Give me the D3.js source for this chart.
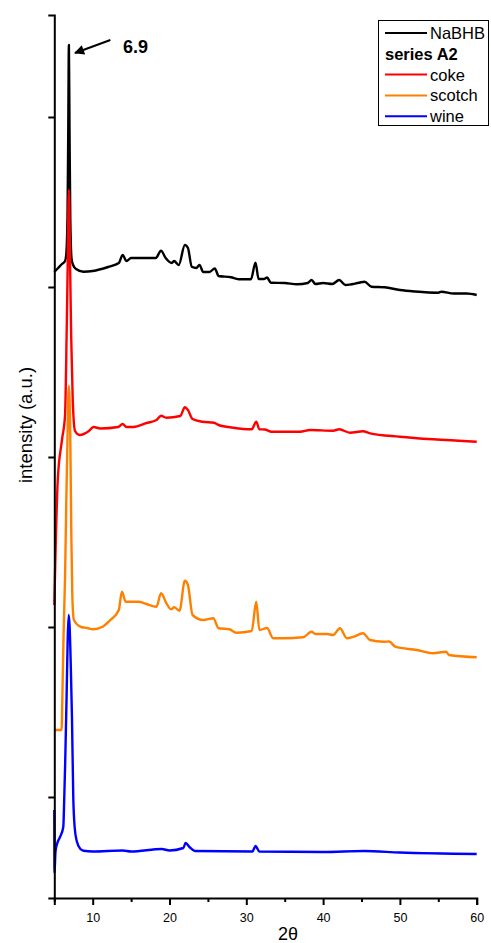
<!DOCTYPE html>
<html><head><meta charset="utf-8">
<script src="https://cdn.jsdelivr.net/npm/d3@7/dist/d3.min.js"></script>
<style>
html,body{margin:0;padding:0;background:#fff;}
svg{display:block;font-family:"Liberation Sans",Arial,sans-serif;}
</style></head>
<body>
<svg id="chart" width="491" height="943"></svg>
<script>
// ---------- data (2θ in degrees, intensity in a.u.) ----------
const nabhbTheta = [5.0,5.5,6.0,6.4,6.55,6.72,6.82,6.9,6.98,7.08,7.25,7.45,7.83,8.78,10,12,13.4,13.9,14.4,15,18.2,18.9,19.5,20.3,20.6,21.2,22.0,22.4,22.9,23.5,23.9,24.4,25.2,25.9,26.4,28,29,30.6,31.2,31.6,32.3,32.7,33.2,35,36.6,38,38.5,39,40,41.2,42.1,42.9,44.7,45.4,46.3,48,50,52,55,55.4,57,58.7,60];
const nabhbI     = [6950,6990,7030,7060,7120,7500,8400,9220,8400,7500,7080,7020,6980,6953,6960,7000,7040,7120,7060,7090,7090,7163,7090,7040,7060,7020,7220,7190,7003,6990,7020,6950,6950,6985,6910,6897,6877,6877,7043,6880,6880,6895,6843,6840,6827,6840,6870,6830,6840,6830,6870,6820,6843,6853,6803,6797,6770,6755,6743,6753,6735,6735,6720];

const cokeTheta = [5.0,5.2,5.45,6.0,6.4,6.6,6.74,6.9,7.06,7.2,7.4,7.7,8.3,9.5,10.1,11,13.3,13.9,14.4,15.3,17,18.3,18.9,19.6,21.4,22.0,22.4,23,24.3,25.8,26.4,28.3,30.7,31.3,31.7,32.4,33.3,37,38.3,41.3,42.1,43.5,45.2,46.1,50,54.3,60];
const cokeI     = [3620,4270,4870,5270,5520,6300,7000,7770,7000,6300,5670,5360,5320,5360,5400,5385,5400,5430,5400,5400,5440,5470,5513,5493,5510,5597,5570,5480,5453,5443,5420,5393,5377,5453,5377,5375,5353,5353,5370,5363,5377,5343,5357,5337,5303,5277,5253];

const scotchTheta = [5.0,5.95,6.05,6.2,6.4,6.55,6.72,6.9,7.08,7.22,7.35,7.55,8.5,9.3,10,11.3,12.3,13.4,13.8,14.3,16,17,18.3,18.9,19.6,20.2,20.6,21.3,22,22.4,23,24.4,25.7,26.4,27.8,28.7,30.7,31.3,31.7,32.7,33.5,34.8,37.4,38.5,39,40.5,41.3,42.2,43.1,44,45.2,46.1,47.9,48.6,49.4,52.2,54.3,56,56.4,60];
const scotchI     = [2370,2370,2700,3300,3900,4600,5300,5810,5300,4300,3700,3470,3400,3390,3377,3403,3470,3570,3753,3653,3653,3630,3603,3737,3637,3577,3597,3563,3863,3820,3520,3470,3487,3387,3377,3343,3360,3653,3370,3390,3287,3287,3297,3353,3330,3330,3320,3387,3287,3303,3337,3270,3253,3255,3203,3170,3137,3153,3120,3097];

const wineTheta = [5.0,5.03,5.15,5.4,5.75,6.17,6.3,6.42,6.6,6.75,6.88,7.0,7.15,7.3,7.47,7.65,7.92,8.4,8.8,10,13.9,15,19,20,21.8,22.1,22.6,23.3,30.8,31.2,31.7,40,45.3,50,60];
const wineI     = [1570,940,1150,1240,1300,1400,1700,2050,2700,3300,3520,3400,3000,2500,1700,1400,1260,1180,1163,1155,1165,1155,1180,1165,1190,1240,1200,1160,1155,1210,1155,1150,1160,1145,1130];

const seriesNames  = ["NaBHB","coke","scotch","wine"];
const seriesColors = ["#000000","#ff0000","#ff8000","#0000ff"];
const seriesTheta  = [nabhbTheta,cokeTheta,scotchTheta,wineTheta];
const seriesI      = [nabhbI,cokeI,scotchI,wineI];

const xMajorTicks = [10,20,30,40,50,60];
const xMinorTicks = [5,15,25,35,45,55];
const yTicks = [1700,3400,5100,6800,8500];
const xDomain = [5,60];
const yDomain = [690,9520];

const annotLabel = "6.9";
const arrowFrom = [12.3,9270];
const arrowTo   = [7.7,9140];
const annotPos  = [13.95,9200];

// ---------- drawing ----------
const svg = d3.select("#chart");
const x = d3.scaleLinear().domain(xDomain).range([54.3,476.7]);
const y = d3.scaleLinear().domain(yDomain).range([898,15]);

svg.append("defs").append("marker")
  .attr("id","ah").attr("viewBox","0 0 10 10").attr("refX",9).attr("refY",5)
  .attr("markerWidth",6).attr("markerHeight",5).attr("markerUnits","strokeWidth")
  .attr("orient","auto")
  .append("path").attr("d","M0,0 L10,5 L0,10 Z").attr("fill","#000");

const line = d3.line().x(d=>x(d[0])).y(d=>y(d[1])).curve(d3.curveMonotoneX);

seriesNames.forEach((n,i)=>{
  const pts = seriesTheta[i].map((t,j)=>[t,seriesI[i][j]]);
  svg.append("path").datum(pts).attr("d",line)
    .attr("fill","none").attr("stroke",seriesColors[i])
    .attr("stroke-width",2.4).attr("stroke-linejoin","round");
});

// axes
const xAxis = svg.append("g").attr("transform",`translate(0,${y(yDomain[0])})`)
  .call(d3.axisBottom(x).tickValues(xMajorTicks).tickSize(7).tickPadding(8).tickFormat(d3.format("d")));
xAxis.select(".domain").attr("stroke-width",2);
xAxis.selectAll(".tick line").attr("stroke-width",2);
xAxis.selectAll("text").attr("font-size",12.5).attr("font-family","Liberation Sans, Arial").attr("fill","#000");

const xMinor = svg.append("g").attr("transform",`translate(0,${y(yDomain[0])})`)
  .call(d3.axisBottom(x).tickValues(xMinorTicks).tickSize(4).tickFormat(""));
xMinor.select(".domain").remove();
xMinor.selectAll(".tick line").attr("stroke-width",2);

const yAxis = svg.append("g").attr("transform",`translate(${x(xDomain[0])},0)`)
  .call(d3.axisLeft(y).tickValues(yTicks).tickSize(6).tickFormat(""));
yAxis.select(".domain").attr("stroke-width",2);
yAxis.selectAll(".tick line").attr("stroke-width",2);

// axis titles
svg.append("text").attr("x",288).attr("y",940).attr("text-anchor","middle")
  .attr("font-size",18).text("2θ");
svg.append("text").attr("transform","translate(25,425) rotate(-90)")
  .attr("text-anchor","middle").attr("dominant-baseline","central")
  .attr("font-size",18.5).text("intensity (a.u.)");

// annotation
svg.append("line").attr("x1",x(arrowFrom[0])).attr("y1",y(arrowFrom[1]))
  .attr("x2",x(arrowTo[0])).attr("y2",y(arrowTo[1]))
  .attr("stroke","#000").attr("stroke-width",2).attr("marker-end","url(#ah)");
svg.append("text").attr("x",x(annotPos[0])).attr("y",y(annotPos[1]))
  .attr("dominant-baseline","central").attr("font-size",18).attr("font-weight","bold")
  .text(annotLabel);

// legend
const lg = svg.append("g");
lg.append("rect").attr("x",378.5).attr("y",20.5).attr("width",110).attr("height",105)
  .attr("fill","#fff").attr("stroke","#000").attr("stroke-width",1);
const legendRows = [
  {label:"NaBHB", color:seriesColors[0], bold:false},
  {label:"series A2", color:null, bold:true},
  {label:"coke", color:seriesColors[1], bold:false},
  {label:"scotch", color:seriesColors[2], bold:false},
  {label:"wine", color:seriesColors[3], bold:false}
];
legendRows.forEach((r,i)=>{
  const cy = 33 + i*20.8;
  if(r.color){
    lg.append("line").attr("x1",385).attr("x2",427).attr("y1",cy).attr("y2",cy)
      .attr("stroke",r.color).attr("stroke-width",2);
    lg.append("text").attr("x",430).attr("y",cy).attr("dominant-baseline","central")
      .attr("font-size",16.5).text(r.label);
  } else {
    lg.append("text").attr("x",385).attr("y",cy).attr("dominant-baseline","central")
      .attr("font-size",16.5).attr("font-weight","bold").text(r.label);
  }
});
</script>
</body></html>
